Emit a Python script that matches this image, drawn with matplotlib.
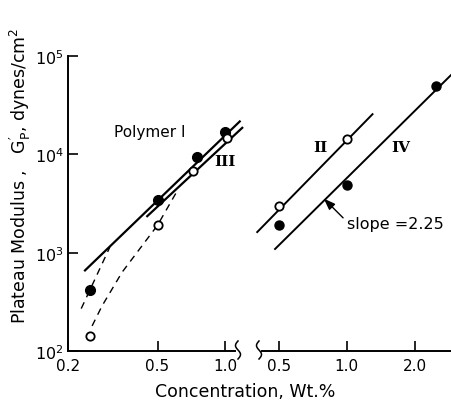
import numpy as np
import matplotlib
matplotlib.use("Agg")
import matplotlib.pyplot as plt
from matplotlib.lines import Line2D

# ---- data ----
# Polymer I (filled) and Polymer III (open), left panel
conc_I = [0.25, 0.5, 0.75, 1.0]
gp_I = [415, 3450, 9500, 16700]
conc_III = [0.25, 0.5, 0.72, 1.02]
gp_III = [142, 1900, 6700, 14800]
fit_I_c = [0.238, 1.16]
fit_I_g = [660, 21600]
fit_III_c = [0.45, 1.19]
fit_III_g = [2350, 18600]
dash_I_c = [0.229, 0.25, 0.307]
dash_I_g = [270, 415, 1140]
dash_III_c = [0.256, 0.283, 0.348, 0.5, 0.617]
dash_III_g = [180, 286, 633, 1900, 4400]

# Polymer II (open) and IV (filled), right panel
conc_II = [0.5, 1.0]
gp_II = [2950, 14200]
conc_IV = [0.5, 1.0, 2.5]
gp_IV = [1900, 4900, 49000]
fit_II_c = [0.40, 1.30]
fit_II_g = [1620, 25600]
fit_IV_c = [0.48, 2.92]
fit_IV_g = [1090, 65000]

left_ticks = [0.2, 0.5, 1.0]
left_labels = ["0.2", "0.5", "1.0"]
right_ticks = [0.5, 1.0, 2.0]
right_labels = ["0.5", "1.0", "2.0"]
y_ticks = [1e2, 1e3, 1e4, 1e5]
y_labels = [r"$10^2$", r"$10^3$", r"$10^4$", r"$10^5$"]

W, H = 451, 406
fig = plt.figure(figsize=(W / 100, H / 100), dpi=100)

bottom = (H - 352) / H
height = (352 - 57) / H
axL = fig.add_axes([68 / W, bottom, (235 - 68) / W, height])
axR = fig.add_axes([262 / W, bottom, (451 - 262) / W, height])

for ax in (axL, axR):
    ax.set_xscale("log")
    ax.set_yscale("log")
    ax.set_ylim(1e2, 1e5)
    ax.minorticks_off()
    ax.spines["top"].set_visible(False)
    ax.spines["right"].set_visible(False)
    ax.spines["bottom"].set_linewidth(1.4)
    ax.spines["left"].set_linewidth(1.4)
    ax.tick_params(direction="in", length=7, width=1.2, labelsize=11, pad=5)

axL.set_xlim(0.2, 1.105)
axR.set_xlim(0.42, 2.9)
axR.spines["left"].set_visible(False)
axR.tick_params(axis="y", left=False, labelleft=False)

axL.set_xticks(left_ticks)
axL.set_xticklabels(left_labels)
axR.set_xticks(right_ticks)
axR.set_xticklabels(right_labels)
axL.set_yticks(y_ticks)
axL.set_yticklabels(y_labels, fontsize=11.5)
axL.tick_params(axis="y", pad=3)
axR.set_yticks(y_ticks)

# left panel
axL.plot(fit_I_c, fit_I_g, color="black", lw=1.6, clip_on=False)
axL.plot(fit_III_c, fit_III_g, color="black", lw=1.6, clip_on=False)
axL.plot(dash_I_c, dash_I_g, color="black", lw=1.0, dashes=(5, 4))
axL.plot(dash_III_c, dash_III_g, color="black", lw=1.0, dashes=(5, 4))
axL.plot(conc_I, gp_I, "o", color="black", ms=7, clip_on=False)
axL.plot(conc_III, gp_III, "o", mfc="white", mec="black", mew=1.3, ms=6, clip_on=False)
axL.text(0.462, 17000, "Polymer I", fontsize=11, ha="center", va="center")
axL.text(1.0, 8500, "III", fontsize=11, fontweight="bold", family="DejaVu Serif",
         ha="center", va="center", clip_on=False)

# right panel
axR.plot(fit_II_c, fit_II_g, color="black", lw=1.4, clip_on=False)
axR.plot(fit_IV_c, fit_IV_g, color="black", lw=1.4, clip_on=False)
axR.plot(conc_II, gp_II, "o", mfc="white", mec="black", mew=1.3, ms=6)
axR.plot(conc_IV, gp_IV, "o", color="black", ms=6.5)
axR.text(0.76, 11800, "II", fontsize=11, fontweight="bold", family="DejaVu Serif",
         ha="center", va="center")
axR.text(1.73, 11800, "IV", fontsize=11, fontweight="bold", family="DejaVu Serif",
         ha="center", va="center")
axR.annotate("slope =2.25", xy=(0.79, 3550), xytext=(1.0, 2000),
             fontsize=11.5, ha="left", va="center",
             arrowprops=dict(arrowstyle="-|>,head_length=0.6,head_width=0.22",
                             color="black", lw=1.0, relpos=(0, 0.5),
                             connectionstyle="angle,angleA=0,angleB=-45,rad=3",
                             shrinkA=1, shrinkB=0))

# axis break squiggles
t = np.linspace(0, 1, 40)
for x0 in (238, 259):
    xs = (x0 - 2.5 * np.sin(2 * np.pi * t)) / W
    ys = (H - (342 + 18 * t)) / H
    fig.add_artist(Line2D(xs, ys, color="black", lw=1.1, transform=fig.transFigure))

fig.text(245 / W, 1 - 392 / H, "Concentration, Wt.%", fontsize=12.5,
         ha="center", va="center")
fig.text(20 / W, 1 - 176 / H,
         r"Plateau Modulus ,   $\mathregular{G^{\prime}_{P}}$, dynes/cm$^2$",
         fontsize=12.5, rotation=90, ha="center", va="center")

fig.savefig("out.png", dpi=100)
